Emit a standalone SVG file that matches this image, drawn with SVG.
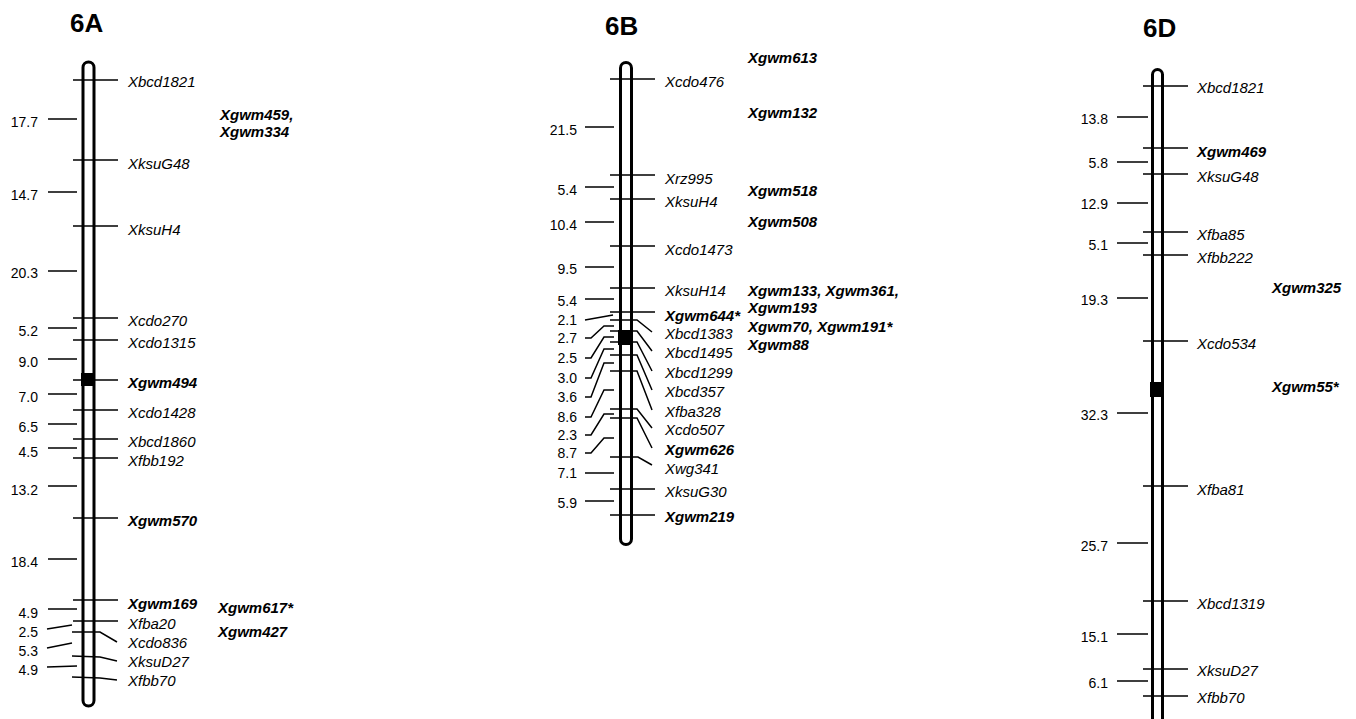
<svg xmlns="http://www.w3.org/2000/svg" width="1356" height="719" viewBox="0 0 1356 719">
<style>
text{font-family:"Liberation Sans",Arial,sans-serif;fill:#000}
.chr{fill:#fff;stroke:#000;stroke-width:3}
.cen{fill:#000}
.tk{stroke:#000;stroke-width:1.5;fill:none}
.lab{font-size:15px;font-style:italic}
.b{font-weight:bold}
.num{font-size:14px;text-anchor:end}
.title{font-size:26px;font-weight:bold}
</style>
<rect width="1356" height="719" fill="#fff"/>

<!-- ===== 6A ===== -->
<g id="chr6A">
<text class="title" x="70" y="32">6A</text>
<rect class="chr" x="83" y="62" width="11" height="644" rx="5.5"/>
<rect class="cen" x="81" y="373" width="14" height="13"/>
</g>
<g id="ticks6A">
<path class="tk" d="M73 80H118M73 160H118M73 226H118M73 318H118M73 340H118M73 380H118M73 410H118M73 439H118M73 458H118M73 518H118M73 600H118M73 621H118M72 632H100L117 642M72 656L100 657L117 661M72 677L100 678L117 680"/>
<path class="tk" d="M48 119H77M48 192H77M48 271H77M48 328H77M48 359H77M48 394H77M48 424H77M48 448H77M48 486H77M48 559H77M48 609H77M47 629L72 625M47 648L72 643M47 667L77 666"/>
</g>
<g id="labels6A">
<text class="lab" x="128" y="87">Xbcd1821</text>
<text class="lab" x="128" y="169">XksuG48</text>
<text class="lab" x="128" y="235">XksuH4</text>
<text class="lab" x="128" y="326">Xcdo270</text>
<text class="lab" x="128" y="348">Xcdo1315</text>
<text class="lab b" x="128" y="388">Xgwm494</text>
<text class="lab" x="128" y="418">Xcdo1428</text>
<text class="lab" x="128" y="447">Xbcd1860</text>
<text class="lab" x="128" y="466">Xfbb192</text>
<text class="lab b" x="128" y="526">Xgwm570</text>
<text class="lab b" x="128" y="609">Xgwm169</text>
<text class="lab" x="128" y="629">Xfba20</text>
<text class="lab" x="128" y="648">Xcdo836</text>
<text class="lab" x="128" y="667">XksuD27</text>
<text class="lab" x="128" y="686">Xfbb70</text>
<text class="lab b" x="220" y="120">Xgwm459,</text>
<text class="lab b" x="220" y="137">Xgwm334</text>
<text class="lab b" x="218" y="613">Xgwm617*</text>
<text class="lab b" x="218" y="637">Xgwm427</text>
</g>
<g id="nums6A">
<text class="num" x="38" y="127">17.7</text>
<text class="num" x="38" y="200">14.7</text>
<text class="num" x="38" y="278">20.3</text>
<text class="num" x="38" y="336">5.2</text>
<text class="num" x="38" y="367">9.0</text>
<text class="num" x="38" y="402">7.0</text>
<text class="num" x="38" y="432">6.5</text>
<text class="num" x="38" y="457">4.5</text>
<text class="num" x="38" y="495">13.2</text>
<text class="num" x="38" y="567">18.4</text>
<text class="num" x="38" y="618">4.9</text>
<text class="num" x="38" y="637">2.5</text>
<text class="num" x="38" y="656">5.3</text>
<text class="num" x="38" y="675">4.9</text>
</g>

<!-- ===== 6B ===== -->
<g id="chr6B">
<text class="title" x="605" y="35">6B</text>
<rect class="chr" x="620.5" y="62.5" width="11" height="482" rx="5.5"/>
<rect class="cen" x="618" y="330" width="15" height="15"/>
</g>
<g id="ticks6B">
<path class="tk" d="M610 79H655M610 175H655M610 199H655M610 246H655M610 288H655M610 312H655M610 320H637L652 332M610 331H637L652 351M610 342H637L652 371M610 355H637L652 390M610 371H637L652 410M610 409H637L652 428M610 418H637L652 448M610 457H638L652 465M610 489H655M610 515H655"/>
<path class="tk" d="M585 127H614M585 187H614M585 222H614M585 267H614M585 299H614M585 320L613 315M585 338H591L604 326H614M585 358H591L604 337H614M585 378H591L604 349H614M585 397H591L604 363H614M585 417H591L604 390H614M585 435H591L604 414H614M585 453H591L604 438H614M585 473H614M585 501H614"/>
</g>
<g id="labels6B">
<text class="lab" x="665" y="87">Xcdo476</text>
<text class="lab" x="665" y="184">Xrz995</text>
<text class="lab" x="665" y="207">XksuH4</text>
<text class="lab" x="665" y="255">Xcdo1473</text>
<text class="lab" x="665" y="296">XksuH14</text>
<text class="lab b" x="665" y="321">Xgwm644*</text>
<text class="lab" x="665" y="339">Xbcd1383</text>
<text class="lab" x="665" y="358">Xbcd1495</text>
<text class="lab" x="665" y="378">Xbcd1299</text>
<text class="lab" x="665" y="397">Xbcd357</text>
<text class="lab" x="665" y="417">Xfba328</text>
<text class="lab" x="665" y="435">Xcdo507</text>
<text class="lab b" x="665" y="455">Xgwm626</text>
<text class="lab" x="665" y="474">Xwg341</text>
<text class="lab" x="665" y="497">XksuG30</text>
<text class="lab b" x="665" y="522">Xgwm219</text>
<text class="lab b" x="748" y="63">Xgwm613</text>
<text class="lab b" x="748" y="118">Xgwm132</text>
<text class="lab b" x="748" y="196">Xgwm518</text>
<text class="lab b" x="748" y="227">Xgwm508</text>
<text class="lab b" x="748" y="296">Xgwm133, Xgwm361,</text>
<text class="lab b" x="748" y="313">Xgwm193</text>
<text class="lab b" x="748" y="332">Xgwm70, Xgwm191*</text>
<text class="lab b" x="748" y="350">Xgwm88</text>
</g>
<g id="nums6B">
<text class="num" x="577" y="135">21.5</text>
<text class="num" x="577" y="195">5.4</text>
<text class="num" x="577" y="230">10.4</text>
<text class="num" x="577" y="274">9.5</text>
<text class="num" x="577" y="306">5.4</text>
<text class="num" x="577" y="325">2.1</text>
<text class="num" x="577" y="343">2.7</text>
<text class="num" x="577" y="363">2.5</text>
<text class="num" x="577" y="383">3.0</text>
<text class="num" x="577" y="402">3.6</text>
<text class="num" x="577" y="422">8.6</text>
<text class="num" x="577" y="440">2.3</text>
<text class="num" x="577" y="458">8.7</text>
<text class="num" x="577" y="478">7.1</text>
<text class="num" x="577" y="508">5.9</text>
</g>

<!-- ===== 6D ===== -->
<g id="chr6D">
<text class="title" x="1143" y="37">6D</text>
<rect class="chr" x="1152.5" y="69.5" width="10" height="700" rx="5"/>
<rect class="cen" x="1150" y="382" width="14" height="15"/>
</g>
<g id="ticks6D">
<path class="tk" d="M1143 86H1188M1143 148H1188M1143 174H1188M1143 232H1188M1143 255H1188M1143 341H1188M1143 486H1188M1143 601H1188M1143 669H1188M1143 696H1188"/>
<path class="tk" d="M1117 117H1148M1117 162H1148M1117 203H1148M1117 243H1148M1117 298H1148M1117 413H1148M1117 543H1148M1117 634H1148M1117 681H1148"/>
</g>
<g id="labels6D">
<text class="lab" x="1197" y="93">Xbcd1821</text>
<text class="lab b" x="1197" y="157">Xgwm469</text>
<text class="lab" x="1197" y="182">XksuG48</text>
<text class="lab" x="1197" y="240">Xfba85</text>
<text class="lab" x="1197" y="263">Xfbb222</text>
<text class="lab" x="1197" y="349">Xcdo534</text>
<text class="lab" x="1197" y="495">Xfba81</text>
<text class="lab" x="1197" y="609">Xbcd1319</text>
<text class="lab" x="1197" y="676">XksuD27</text>
<text class="lab" x="1197" y="703">Xfbb70</text>
<text class="lab b" x="1272" y="293">Xgwm325</text>
<text class="lab b" x="1272" y="392">Xgwm55*</text>
</g>
<g id="nums6D">
<text class="num" x="1108" y="124">13.8</text>
<text class="num" x="1108" y="168">5.8</text>
<text class="num" x="1108" y="209">12.9</text>
<text class="num" x="1108" y="250">5.1</text>
<text class="num" x="1108" y="305">19.3</text>
<text class="num" x="1108" y="420">32.3</text>
<text class="num" x="1108" y="551">25.7</text>
<text class="num" x="1108" y="642">15.1</text>
<text class="num" x="1108" y="688">6.1</text>
</g>
</svg>
